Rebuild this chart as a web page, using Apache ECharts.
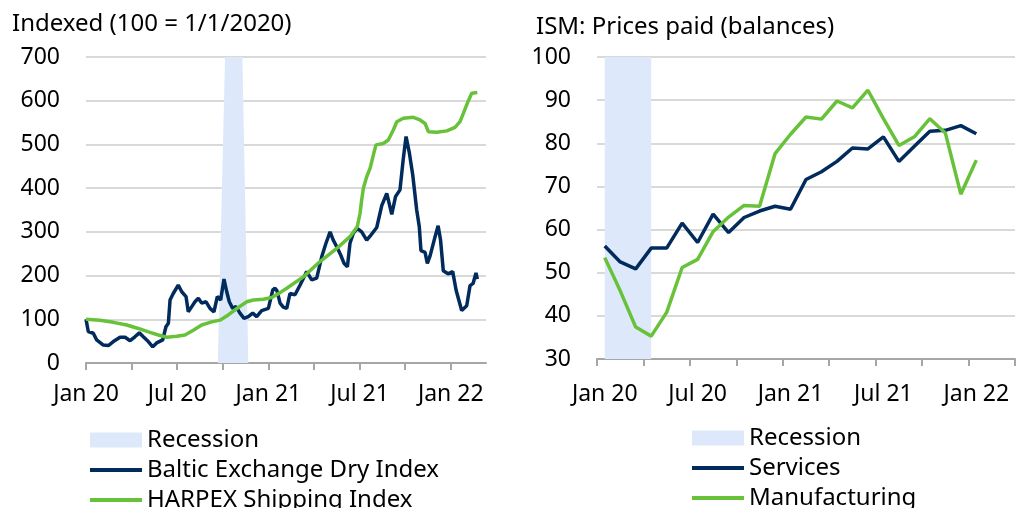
<!DOCTYPE html>
<html>
  <head>
    <meta charset="utf-8">
    <title>Shipping indices and ISM prices paid</title>
    <style>
      html, body { margin: 0; padding: 0; background: #fff; }
    </style>
  </head>
  <body>
    <div id="main" style="width: 1017px;height:508px;"></div>

  <script src="https://cdn.jsdelivr.net/npm/echarts@6/dist/echarts.min.js" charset="utf-8"></script>
  <script type="text/javascript">
  // left panel: time is in months since 1 Jan 2020
  var recessionT = [8.67, 9.15, 10.29, 10.68];
  var recessionV = [0, 700, 700, 0];

  var bdiT = [0.00, 0.15, 0.48, 0.70, 1.14, 1.47, 1.80, 2.24, 2.57, 2.90, 3.22, 3.51, 3.77, 4.10, 4.39, 4.65,
    5.05, 5.26, 5.42, 5.53, 5.74, 6.07, 6.30, 6.58, 6.73, 6.96, 7.17, 7.39, 7.61, 7.90, 8.16, 8.42, 8.64, 8.86,
    9.08, 9.26, 9.43, 9.65, 9.87, 10.13, 10.40, 10.68, 10.97, 11.23, 11.56, 12.00, 12.29, 12.44, 12.57, 12.77,
    12.98, 13.21, 13.42, 13.75, 14.08, 14.52, 14.85, 15.18, 15.51, 15.79, 16.06, 16.27, 16.50, 16.76, 16.98,
    17.20, 17.37, 17.59, 17.85, 18.14, 18.47, 18.69, 19.13, 19.46, 19.79, 20.12, 20.37, 20.66, 20.88, 21.06,
    21.28, 21.50, 21.76, 21.93, 22.04, 22.31, 22.46, 22.64, 22.97, 23.17, 23.33, 23.51, 23.82, 24.13, 24.35,
    24.72, 25.05, 25.27, 25.47, 25.66, 25.75];
  var bdiV = [100, 72, 68, 53, 41, 40, 49, 59, 59, 51, 60, 69, 60, 49, 37, 46,
    53, 83, 91, 144, 159, 178, 163, 152, 117, 129, 140, 148, 137, 140, 125, 117, 152, 144,
    192, 163, 140, 125, 129, 114, 102, 106, 114, 106, 120, 125, 167, 171, 165, 137,
    128, 125, 159, 156, 178, 209, 190, 194, 243, 274, 300, 281, 266, 247, 228,
    220, 274, 297, 308, 300, 281, 290, 310, 360, 388, 340, 381, 396, 468, 518,
    480, 430, 350, 312, 257, 253, 228, 245, 289, 314, 281, 211, 204, 209, 167,
    120, 131, 177, 182, 206, 192];

  var harpexT = [0.00, 0.92, 1.80, 2.68, 3.44, 4.21, 4.76, 5.31, 5.97, 6.51, 7.06, 7.61, 8.27, 8.82, 9.36,
    10.02, 10.58, 11.01, 11.67, 12.22, 12.77, 13.21, 14.30, 15.40, 16.50, 17.37, 17.85, 18.03, 18.14, 18.25,
    18.47, 18.69, 18.91, 19.08, 19.56, 19.89, 20.22, 20.45, 20.88, 21.54, 21.98, 22.31, 22.53, 23.08, 23.74,
    24.28, 24.61, 24.83, 25.16, 25.38, 25.75];
  var harpexV = [100, 98, 93, 87, 79, 70, 64, 59, 61, 64, 75, 87, 94, 98, 110,
    127, 140, 144, 146, 150, 161, 171, 197, 232, 262, 289, 312, 342, 373, 400,
    426, 445, 476, 499, 502, 510, 533, 552, 560, 562, 556, 548, 529, 528, 531,
    539, 552, 571, 600, 617, 619];

  var leftTicks = [0, 3, 6, 9, 12, 15, 18, 21, 24];
  var leftLabels = [0, 6, 12, 18, 24];

  // right panel: monthly ISM balances
  var ismMonths = ['Jan 20', 'Feb 20', 'Mar 20', 'Apr 20', 'May 20', 'Jun 20', 'Jul 20', 'Aug 20', 'Sep 20',
    'Oct 20', 'Nov 20', 'Dec 20', 'Jan 21', 'Feb 21', 'Mar 21', 'Apr 21', 'May 21', 'Jun 21', 'Jul 21',
    'Aug 21', 'Sep 21', 'Oct 21', 'Nov 21', 'Dec 21', 'Jan 22', 'Feb 22', 'Mar 22'];
  var ismRecession = [100, 100, 100, 100];
  var servicesVals = [56.2, 52.5, 50.9, 55.7, 55.7, 61.5, 57.0, 63.6, 59.3, 62.8, 64.3, 65.4, 64.7,
    71.6, 73.4, 75.8, 78.9, 78.7, 81.5, 75.8, 79.3, 82.8, 83.0, 84.1, 82.2];
  var manufVals = [53.5, 45.8, 37.4, 35.3, 40.8, 51.2, 53.1, 59.5, 62.9, 65.6, 65.4, 77.6, 82.1,
    86.1, 85.6, 89.8, 88.2, 92.3, 85.7, 79.5, 81.5, 85.7, 82.4, 68.2, 76.1];

  var navy = '#002b5c';
  var green = '#67c23a';
  var band = '#dde9fa';
  var font = 'Noto Sans';

  function zip(t, v) {
    var out = [];
    for (var i = 0; i < t.length; i++) out.push([t[i], v[i]]);
    return out;
  }

  function monthLabel(m) {
    var yr = 20 + Math.floor(m / 12);
    return (m % 12 === 0 ? 'Jan ' : 'Jul ') + yr;
  }

  var axisText = { color: '#000', fontSize: 23, fontFamily: font };
  var legendText = { color: '#000', fontSize: 24, fontFamily: font, lineHeight: 24 };
  var titleText = { color: '#000', fontSize: 24, fontWeight: 'normal', fontFamily: font };

  // legend entries: the band gets a filled box, the lines get no marker dot
  function legendBox(left, top, names) {
    return {
      orient: 'vertical', left: left, top: top, height: 120, padding: 0,
      itemWidth: 52, itemHeight: 15, itemGap: 6,
      textStyle: legendText, lineStyle: { width: 4 }, itemStyle: { opacity: 0 },
      data: [
        { name: names[0], icon: 'rect', itemStyle: { opacity: 1 } },
        names[1], names[2]
      ]
    };
  }

  var myChart = echarts.init(document.getElementById('main'));

  var option = {
    backgroundColor: '#fff',
    animation: false,
    title: [
      { text: 'Indexed (100 = 1/1/2020)', left: 12, top: 12, padding: 0, textStyle: titleText },
      { text: 'ISM: Prices paid (balances)', left: 536, top: 15, padding: 0, textStyle: titleText }
    ],
    legend: [
      legendBox(88, 428, ['Recession', 'Baltic Exchange Dry Index', 'HARPEX Shipping Index']),
      legendBox(690, 426, ['Recession ', 'Services', 'Manufacturing'])
    ],
    grid: [
      { left: 86, right: 531, top: 57, bottom: 145 },
      { left: 597, right: 2, top: 57, bottom: 149 }
    ],
    xAxis: [
      {
        type: 'value', gridIndex: 0, min: 0, max: 26.32, interval: 3,
        splitLine: { show: false },
        axisLine: { lineStyle: { color: '#a6a6a6', width: 2 } },
        axisTick: { show: true, length: 7, lineStyle: { color: '#a6a6a6', width: 2 }, customValues: leftTicks },
        axisLabel: Object.assign({ margin: 20, customValues: leftLabels, formatter: monthLabel }, axisText)
      },
      {
        type: 'category', gridIndex: 1, data: ismMonths, boundaryGap: true,
        axisLine: { lineStyle: { color: '#a6a6a6', width: 2 } },
        axisTick: { show: true, interval: 2, length: 7, lineStyle: { color: '#a6a6a6', width: 2 } },
        axisLabel: Object.assign({ margin: 24, interval: 5 }, axisText)
      }
    ],
    yAxis: [
      {
        type: 'value', gridIndex: 0, min: 0, max: 700, interval: 100,
        axisLine: { show: false }, axisTick: { show: false },
        splitLine: { lineStyle: { color: '#d9d9d9', width: 2 } },
        axisLabel: Object.assign({ margin: 26 }, axisText)
      },
      {
        type: 'value', gridIndex: 1, min: 30, max: 100, interval: 10,
        axisLine: { show: false }, axisTick: { show: false },
        splitLine: { lineStyle: { color: '#d9d9d9', width: 2 } },
        axisLabel: Object.assign({ margin: 26 }, axisText)
      }
    ],
    series: [
      {
        name: 'Recession', type: 'line', xAxisIndex: 0, yAxisIndex: 0,
        data: zip(recessionT, recessionV), symbol: 'none', color: band,
        lineStyle: { width: 0 }, areaStyle: { color: band, opacity: 1 }
      },
      {
        name: 'Baltic Exchange Dry Index', type: 'line', xAxisIndex: 0, yAxisIndex: 0,
        data: zip(bdiT, bdiV), symbol: 'none', color: navy,
        lineStyle: { width: 3.5, color: navy }
      },
      {
        name: 'HARPEX Shipping Index', type: 'line', xAxisIndex: 0, yAxisIndex: 0,
        data: zip(harpexT, harpexV), symbol: 'none', color: green,
        lineStyle: { width: 3.5, color: green }
      },
      {
        name: 'Recession ', type: 'line', xAxisIndex: 1, yAxisIndex: 1,
        data: ismRecession, symbol: 'none', color: band,
        lineStyle: { width: 0 }, areaStyle: { color: band, opacity: 1 }
      },
      {
        name: 'Services', type: 'line', xAxisIndex: 1, yAxisIndex: 1,
        data: servicesVals, symbol: 'none', color: navy,
        lineStyle: { width: 3.5, color: navy }
      },
      {
        name: 'Manufacturing', type: 'line', xAxisIndex: 1, yAxisIndex: 1,
        data: manufVals, symbol: 'none', color: green,
        lineStyle: { width: 3.5, color: green }
      }
    ]
  };
  myChart.setOption(option);
  </script>
  </body>
</html>
